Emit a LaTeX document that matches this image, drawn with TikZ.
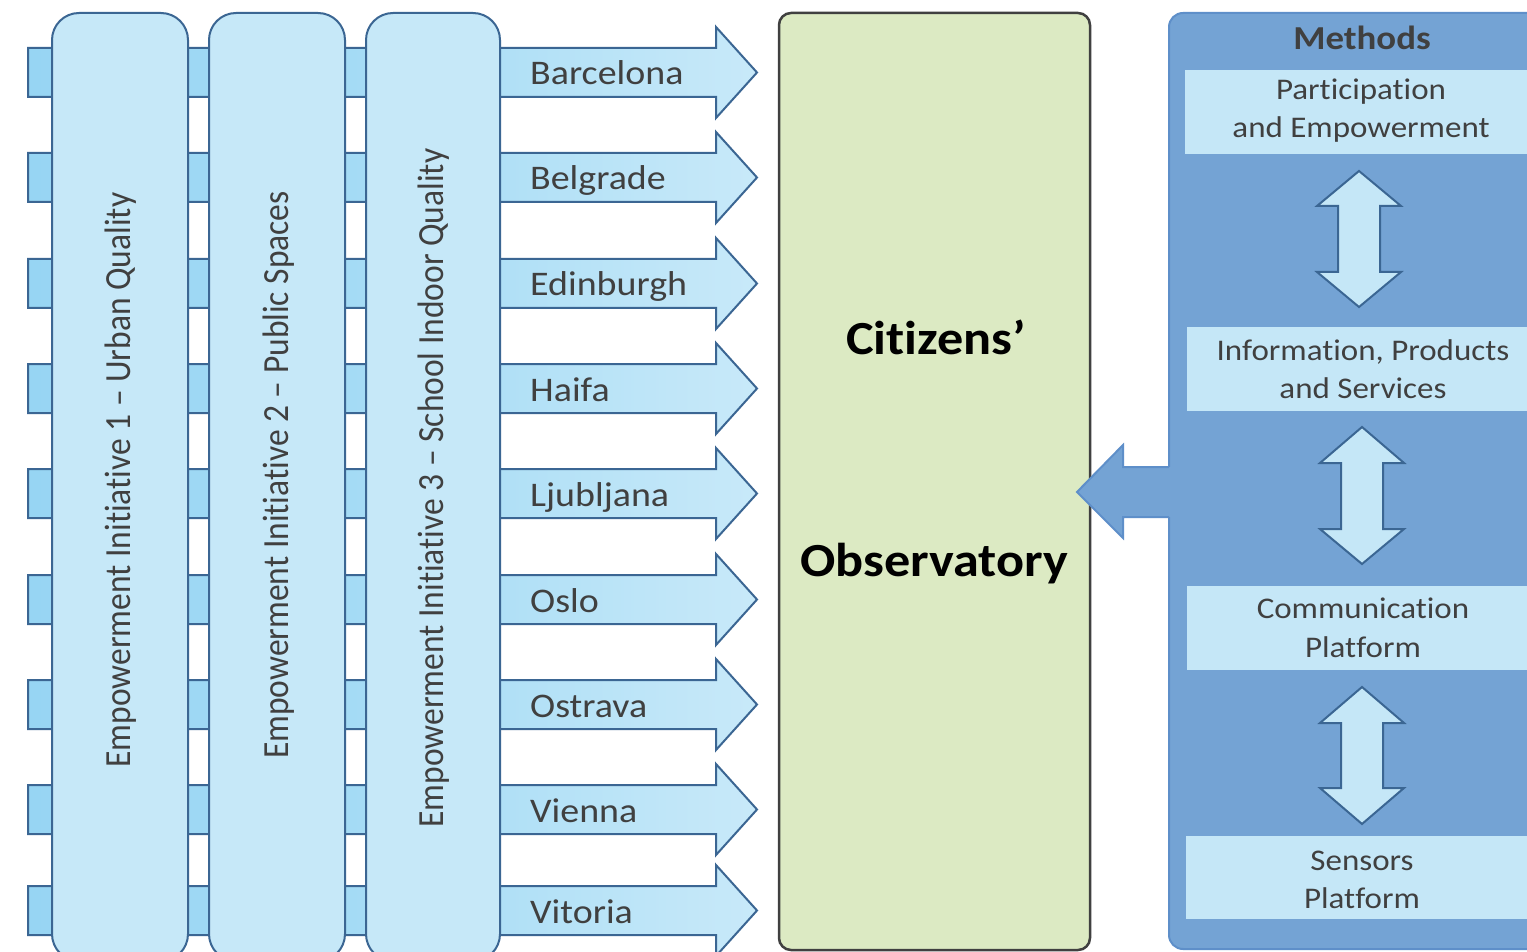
\documentclass[tikz,border=0pt]{standalone}
\usepackage{fontspec}
\setmainfont{Carlito}[Ligatures={TeX,NoCommon}]
\usepackage{graphicx}
\definecolor{bord}{HTML}{3B6693}
\definecolor{pill}{HTML}{C6E8F8}
\definecolor{arL}{HTML}{97D5F3}
\definecolor{arM}{HTML}{A6DCF5}
\definecolor{arR}{HTML}{C8E9F9}
\definecolor{meth}{HTML}{74A3D4}
\definecolor{methb}{HTML}{5E8FC9}
\definecolor{inner}{HTML}{C5E7F7}
\definecolor{obs}{HTML}{DCEAC3}
\definecolor{obsb}{HTML}{404040}
\definecolor{txt}{HTML}{404040}
\newcommand{\hs}[1]{\scalebox{1.1}[1]{#1}}
\newcommand{\vs}[1]{\scalebox{1}[1.1]{#1}}
\tikzset{
  cityarrow/.style={draw=bord, line width=2, left color=arL, right color=arR, middle color=arM},
  pillarbox/.style={draw=bord, line width=2, fill=pill, rounded corners=27},
  citytxt/.style={text=txt, font=\fontsize{34.5}{40}\selectfont, inner sep=0, anchor=base west},
  pilltxt/.style={text=txt, font=\fontsize{33.5}{40}\selectfont, inner sep=0, anchor=base, rotate=90},
  methtxt/.style={text=txt, font=\fontsize{30}{36}\selectfont, inner sep=0, anchor=base},
  innerbox/.style={fill=inner},
  dblarrow/.style={draw=bord, line width=2, fill=inner, line join=miter},
  obstxt/.style={text=black, font=\bfseries\fontsize{47.5}{54}\selectfont, inner sep=0, anchor=base},
}
\begin{document}
\begin{tikzpicture}[x=1pt,y=-1pt]
\useasboundingbox (0,0) rectangle (1527,952);
\clip (0,0) rectangle (1527,952);
\fill[white] (0,0) rectangle (1527,952);
% city arrows
\foreach \name/\yTop [count=\i from 0] in {Barcelona/48,Belgrade/153,Edinburgh/259,Haifa/364,Ljubljana/469,Oslo/575,Ostrava/680,Vienna/785,Vitoria/886}{
  \pgfmathsetmacro\yBot{\yTop+49}
  \pgfmathsetmacro\yMid{\yTop+24.5}
  \pgfmathsetmacro\yHt{\yTop-21}
  \pgfmathsetmacro\yHb{\yBot+21}
  \pgfmathsetmacro\yBl{\yTop+37}
  \draw[cityarrow] (28,\yTop) -- (716,\yTop) -- (716,\yHt) -- (757,\yMid) -- (716,\yHb) -- (716,\yBot) -- (28,\yBot) -- cycle;
  \node[citytxt] (city\i) at (530,\yBl) {\hs{\name}};
}
% pillars
\draw[pillarbox] (52,13) rectangle (188,961);
\draw[pillarbox] (209,13) rectangle (345,961);
\draw[pillarbox] (366,13) rectangle (500,961);
\node[pilltxt] (ei1) at (130.5,480) {\vs{Empowerment Initiative 1 – Urban Quality}};
\node[pilltxt] (ei2) at (288,475) {\vs{Empowerment Initiative 2 – Public Spaces}};
\node[pilltxt] (ei3) at (443,488) {\vs{Empowerment Initiative 3 – School Indoor Quality}};
% observatory
\draw[draw=obsb, line width=2.5, fill=obs, rounded corners=12] (779,13) rectangle (1090,950);
\node[obstxt] (cit) at (936,354) {\hs{Citizens’}};
\node[obstxt] (obsv) at (934,576) {\hs{Observatory}};
% methods box
\draw[draw=methb, line width=2, fill=meth, rounded corners=14] (1169,13) rectangle (1580,949);
\fill[meth] (1172,467) -- (1123,467) -- (1123,445) -- (1077,492) -- (1123,538) -- (1123,517) -- (1172,517) -- cycle;
\draw[draw=methb, line width=2, line join=miter] (1169,467) -- (1123,467) -- (1123,445) -- (1077,492) -- (1123,538) -- (1123,517) -- (1169,517);
\node[text=txt, font=\bfseries\fontsize{33.5}{40}\selectfont, inner sep=0, anchor=base] (meths) at (1362,50) {\hs{Methods}};
% inner boxes
\fill[innerbox] (1185,70) rectangle (1540,154);
\fill[innerbox] (1187,327) rectangle (1540,411);
\fill[innerbox] (1187,586) rectangle (1540,670);
\fill[innerbox] (1186,836) rectangle (1540,919);
\node[methtxt] (m1a) at (1361,100) {\hs{Participation}};
\node[methtxt] (m1b) at (1361,138) {\hs{and Empowerment}};
\node[methtxt] (m2a) at (1363,360) {\hs{Information, Products}};
\node[methtxt] (m2b) at (1363,398) {\hs{and Services}};
\node[methtxt] (m3a) at (1363,618) {\hs{Communication}};
\node[methtxt] (m3b) at (1363,657) {\hs{Platform}};
\node[methtxt] (m4a) at (1362,870) {\hs{Sensors}};
\node[methtxt] (m4b) at (1362,908) {\hs{Platform}};
% double arrows
\foreach \cx/\ty/\hba/\hbb/\by in {1359/171/206/272/307, 1362/427/463/529/564, 1362/687/723/788/824}{
  \draw[dblarrow] (\cx,\ty) -- (\cx+42,\hba) -- (\cx+21,\hba) -- (\cx+21,\hbb) -- (\cx+42,\hbb) -- (\cx,\by) -- (\cx-42,\hbb) -- (\cx-21,\hbb) -- (\cx-21,\hba) -- (\cx-42,\hba) -- cycle;
}
\end{tikzpicture}
\end{document}
